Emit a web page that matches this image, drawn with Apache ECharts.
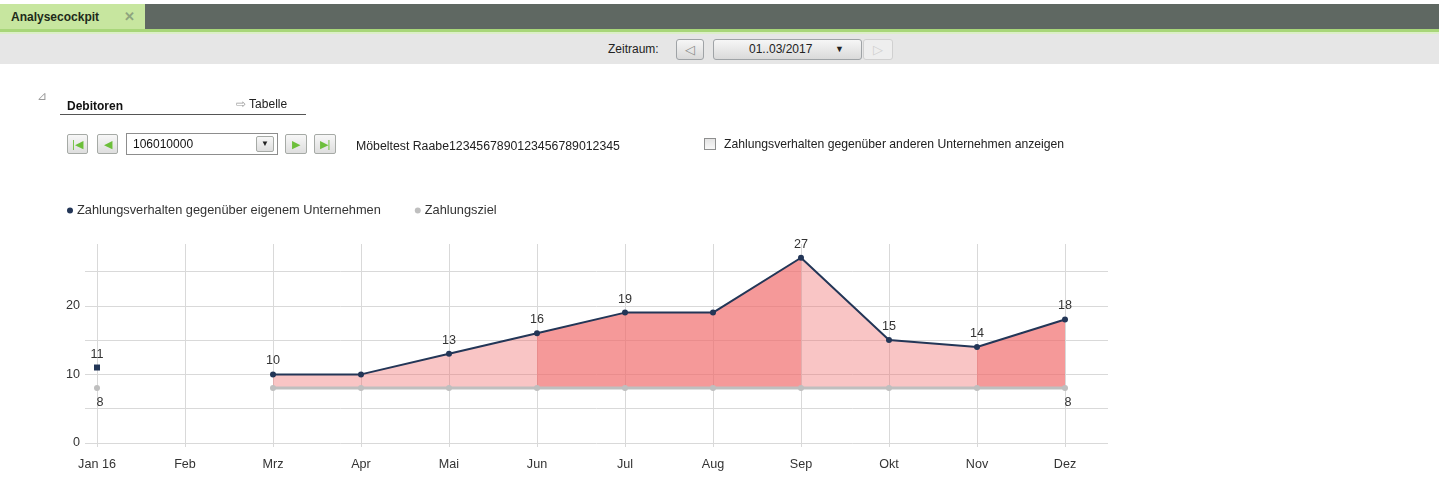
<!DOCTYPE html>
<html><head><meta charset="utf-8">
<script src="https://cdn.jsdelivr.net/npm/echarts@6/dist/echarts.min.js"></script>
<style>
html,body{margin:0;padding:0;width:1439px;height:493px;overflow:hidden;background:#fff;font-family:"Liberation Sans",Arial,sans-serif;font-size:12px;color:#222}
#chart{position:absolute;left:0;top:0;width:1439px;height:493px}
.abs{position:absolute;white-space:nowrap}
#topbar{left:0;top:4px;width:1439px;height:25px;background:#5f6862}
#tab{left:0;top:4px;width:145px;height:26px;background:#c7e69f}
#tabtxt{left:11px;top:10px;font-weight:bold;color:#1e2a1a;font-size:12px}
#tabx{left:124px;top:9px;font-weight:bold;color:#8ea47e;font-size:13px}
#gline{left:0;top:29px;width:1439px;height:3px;background:#a8d679}
#gline2{left:0;top:32px;width:1439px;height:2px;background:#dcefc8}
#toolbar{left:0;top:34px;width:1439px;height:30px;background:#e6e6e6}
.btn{border:1px solid #9fa3a6;border-radius:3px;background:linear-gradient(#f6f6f6,#dadada);box-sizing:border-box;text-align:center;color:#8a8a8a}
.nbtn{border:1px solid #a6aaa6;border-radius:2px;background:linear-gradient(#f7f7f7,#dedede);box-sizing:border-box;text-align:center;color:#6cbf3a;font-size:11px;line-height:18px}
</style></head>
<body>
<div id="chart"></div>
<div class="abs" id="topbar"></div>
<div class="abs" id="tab"></div>
<div class="abs" id="tabtxt">Analysecockpit</div>
<div class="abs" id="tabx">✕</div>
<div class="abs" id="gline"></div>
<div class="abs" id="gline2"></div>
<div class="abs" id="toolbar"></div>
<div class="abs" style="left:608px;top:42px;color:#222">Zeitraum:</div>
<div class="abs btn" style="left:676px;top:39px;width:28px;height:21px;line-height:19px;font-size:13px">◁</div>
<div class="abs btn" style="left:713px;top:39px;width:149px;height:21px;line-height:19px;color:#222">
  <span style="position:absolute;left:35px;font-size:12px">01..03/2017</span>
  <span style="position:absolute;left:121px;font-size:9px">▼</span>
</div>
<div class="abs btn" style="left:863px;top:39px;width:30px;height:21px;line-height:19px;font-size:13px;border-color:#d0d0d0;color:#d0d0d0;background:#eeeeee">▷</div>

<div class="abs" style="left:37px;top:89px;color:#9a9a9a;font-size:12px">⊿</div>
<div class="abs" style="left:67px;top:99px;font-weight:bold;color:#111">Debitoren</div>
<div class="abs" style="left:236px;top:97px;color:#222"><span style="color:#9a9a9a">⇨</span> Tabelle</div>
<div class="abs" style="left:60px;top:114px;width:246px;height:1px;background:#555"></div>

<div class="abs nbtn" style="left:67px;top:134px;width:21px;height:20px">|◀</div>
<div class="abs nbtn" style="left:97px;top:134px;width:21px;height:20px">◀</div>
<div class="abs" style="left:126px;top:133px;width:152px;height:22px;border:1px solid #8d8d8d;box-sizing:border-box;background:#fff">
  <span style="position:absolute;left:6px;top:3px;color:#111">106010000</span>
  <div class="nbtn" style="position:absolute;left:129px;top:2px;width:18px;height:16px;line-height:14px;color:#222;font-size:8px">▼</div>
</div>
<div class="abs nbtn" style="left:285px;top:134px;width:22px;height:20px">▶</div>
<div class="abs nbtn" style="left:314px;top:134px;width:22px;height:20px">▶|</div>
<div class="abs" style="left:356px;top:139px;color:#222;font-size:12.3px">Möbeltest Raabe1234567890123456789012345</div>
<div class="abs" style="left:704px;top:138px;width:12px;height:12px;border:1px solid #8e8f8f;box-sizing:border-box;background:linear-gradient(#e4e4e4,#f8f8f8)"></div>
<div class="abs" style="left:724px;top:137px;color:#222;font-size:12.2px">Zahlungsverhalten gegenüber anderen Unternehmen anzeigen</div>

<script>
const monate = ['Jan 16','Feb','Mrz','Apr','Mai','Jun','Jul','Aug','Sep','Okt','Nov','Dez'];
const zahlungsverhalten = [11, null, 10, 10, 13, 16, 19, 19, 27, 15, 14, 18];
const zahlungsziel = [8, null, 8, 8, 8, 8, 8, 8, 8, 8, 8, 8];
// fill shade of each interval from month i to month i+1
const flaechenStufe = [null, null, 'hell', 'hell', 'hell', 'dunkel', 'dunkel', 'dunkel', 'hell', 'hell', 'dunkel'];
const yAchsenBeschriftung = [0, 10, 20];
const serienNamen = ['Zahlungsverhalten gegenüber eigenem Unternehmen', 'Zahlungsziel'];

const FONT = '"Liberation Sans", Arial, sans-serif';
const FS = 12.6;
const GRID_COLOR = '#d9d9d9';
const NAVY = '#233657';
const GREY = '#bfbfbf';
const FILL = { hell: 'rgba(240,110,110,0.40)', dunkel: 'rgba(240,105,105,0.68)' };
const zielBasis = zahlungsziel.find(v => v != null);

function isolated(arr, i) {
  return (i === 0 || arr[i - 1] == null) && (i === arr.length - 1 || arr[i + 1] == null);
}
const verhaltenData = zahlungsverhalten.map((v, i) => {
  if (v == null) return null;
  const prevDirect = i > 0 ? zahlungsverhalten[i - 1] : null;
  const showLabel = prevDirect == null || prevDirect !== v;
  return {
    value: v,
    symbol: isolated(zahlungsverhalten, i) ? 'rect' : 'circle',
    label: { show: showLabel }
  };
});
const lastZiel = zahlungsziel.length - 1;
const zielData = zahlungsziel.map((v, i) => v == null ? null : ({ value: v, label: { show: i === 0 || i === lastZiel } }));

function areaData(stufe) {
  return zahlungsverhalten.map((v, i) => {
    const a = i > 0 && flaechenStufe[i - 1] === stufe;
    const b = i < flaechenStufe.length && flaechenStufe[i] === stufe;
    return (a || b) ? v : null;
  });
}
function areaSeries(stufe) {
  return {
    type: 'line', xAxisIndex: 1, yAxisIndex: 1,
    data: areaData(stufe), symbol: 'none', silent: true,
    lineStyle: { width: 0, opacity: 0 },
    areaStyle: { color: FILL[stufe], opacity: 1, origin: zielBasis },
    z: 1
  };
}

const chart = echarts.init(document.getElementById('chart'), null, { renderer: 'canvas' });
chart.setOption({
  animation: false,
  textStyle: { fontFamily: FONT },
  legend: {
    left: 62, top: 199, icon: 'circle', itemWidth: 6, itemHeight: 6, itemGap: 34,
    textStyle: { fontSize: 12.8, color: '#333', fontFamily: FONT, padding: [0, 0, 0, -1] },
    data: serienNamen
  },
  grid: [
    { left: 85, right: 331, top: 244, bottom: 50 },
    { left: 97, right: 374, top: 244, bottom: 50 }
  ],
  xAxis: [
    { type: 'value', gridIndex: 0, show: false, min: 0, max: 1 },
    {
      type: 'category', gridIndex: 1, data: monate, boundaryGap: false,
      axisLine: { show: false },
      axisTick: { show: true, length: 4, lineStyle: { color: GRID_COLOR } },
      splitLine: { show: true, lineStyle: { color: GRID_COLOR, width: 1 } },
      axisLabel: { color: '#333', fontSize: FS, margin: 15, fontFamily: FONT }
    }
  ],
  yAxis: [
    {
      type: 'value', gridIndex: 0, min: 0, max: 29, interval: 5,
      axisLine: { show: false }, axisTick: { show: false },
      splitLine: { show: true, showMaxLine: false, lineStyle: { color: GRID_COLOR, width: 1 } },
      axisLabel: {
        color: '#333', fontSize: FS, margin: 5, fontFamily: FONT, showMaxLabel: false,
        formatter: v => yAchsenBeschriftung.includes(v) ? String(v) : ''
      }
    },
    { type: 'value', gridIndex: 1, min: 0, max: 29, interval: 5, show: false, splitLine: { show: false } }
  ],
  series: [
    areaSeries('hell'),
    areaSeries('dunkel'),
    {
      name: serienNamen[1], type: 'line', xAxisIndex: 1, yAxisIndex: 1,
      data: zielData, color: GREY, symbol: 'circle', symbolSize: 6, showSymbol: true,
      lineStyle: { width: 3, color: GREY }, itemStyle: { color: GREY },
      label: { position: 'bottom', distance: 5, offset: [3, 0], color: '#333', fontSize: FS, fontFamily: FONT },
      z: 3
    },
    {
      name: serienNamen[0], type: 'line', xAxisIndex: 1, yAxisIndex: 1,
      data: verhaltenData, color: NAVY, symbolSize: 6, showSymbol: true,
      lineStyle: { width: 2, color: NAVY }, itemStyle: { color: NAVY },
      label: { position: 'top', distance: 4, color: '#333', fontSize: FS, fontFamily: FONT },
      z: 4
    }
  ]
});
</script>
</body></html>
